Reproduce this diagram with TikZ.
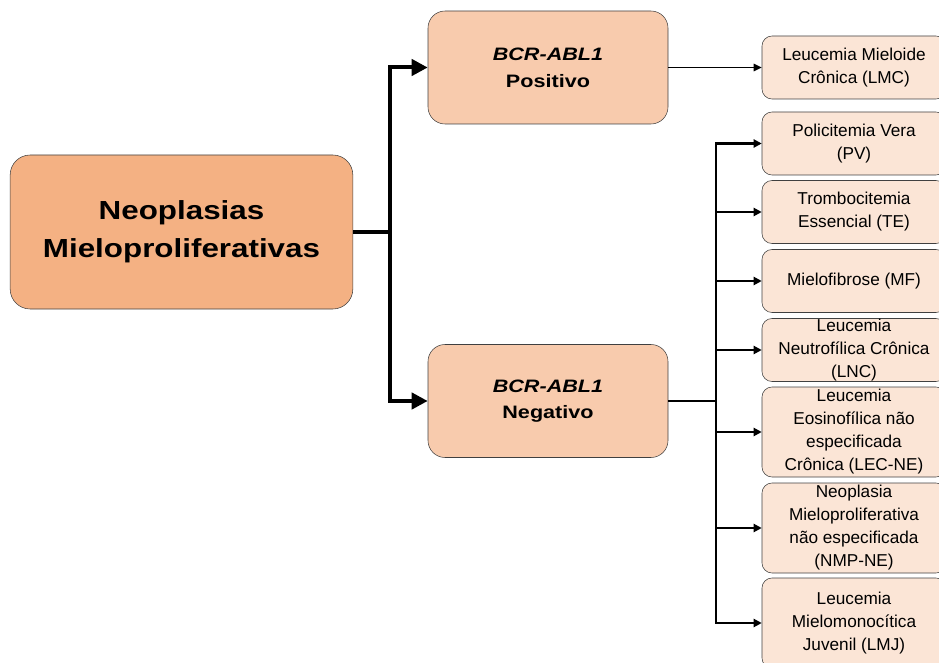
\documentclass[tikz,border=0pt]{standalone}
\usepackage{fontspec}
\setmainfont{Liberation Sans}
\newfontfamily\widefont[FakeStretch=1.2]{Liberation Sans}
\usetikzlibrary{arrows.meta,positioning}
\definecolor{peach}{HTML}{F4B183}
\definecolor{apricot}{HTML}{F8CBAD}
\definecolor{cream}{HTML}{FBE5D6}
\definecolor{rim}{HTML}{404040}

\begin{document}
\begin{tikzpicture}[x=0.75pt,y=-0.75pt,
    rootbox/.style={draw=rim,fill=peach,rounded corners=15pt,minimum width=257pt,
      minimum height=115.5pt,align=center,
      font=\widefont\bfseries\fontsize{19.6}{28.5}\selectfont},
    groupbox/.style={draw=rim,fill=apricot,rounded corners=12.75pt,minimum width=180pt,
      minimum height=84.75pt,align=center,
      font=\widefont\bfseries\fontsize{13.5}{20}\selectfont},
    leafbox/.style={draw=rim,fill=cream,rounded corners=7.5pt,minimum width=138pt,
      minimum height=47.25pt,align=center,inner sep=0pt,
      font=\fontsize{12.9}{17.25}\selectfont},
    tallbox/.style={leafbox,minimum height=67.5pt},
    mainline/.style={line width=3pt},
    mainarrow/.style={mainline,-{Triangle[length=12pt,width=12pt]}},
    twigarrow/.style={line width=1.7pt,-{Triangle[length=6pt,width=6pt]}}]
  \clip (0,0) rectangle (939,663);
  % left column
  \node[rootbox] (root) at (181.5,232) {Neoplasias\\Mieloproliferativas};
  \node[groupbox] (pos) at (548,67.5) {\textit{BCR-ABL1}\\Positivo};
  \node[groupbox] (neg) at (548,401) {\textit{BCR-ABL1}\\Negativo};
  % right column
  \node[leafbox] (lmc) at (854,67.5) {Leucemia Mieloide\\Crônica (LMC)};
  \node[leafbox] (pv) at (854,143.5) {Policitemia Vera\\(PV)};
  \node[leafbox] (te) at (854,212) {Trombocitemia\\Essencial (TE)};
  \node[leafbox] (mf) at (854,281) {Mielofibrose (MF)};
  \node[leafbox] (lnc) at (854,350) {Leucemia\\Neutrofílica Crônica\\(LNC)};
  \node[tallbox] (lec) at (854,432) {Leucemia\\Eosinofílica não\\especificada\\Crônica (LEC-NE)};
  \node[tallbox] (nmp) at (854,528) {Neoplasia\\Mieloproliferativa\\não especificada\\(NMP-NE)};
  \node[tallbox] (lmj) at (854,623) {Leucemia\\Mielomonocítica\\Juvenil (LMJ)};
  % connectors
  \draw[mainline] (root.east) -- ++(37,0) coordinate (rj);
  \draw[mainarrow] (rj) |- (pos.west);
  \draw[mainarrow] (rj) |- (neg.west);
  \draw[line width=1.3pt,-{Triangle[length=6pt,width=5.5pt]}] (pos.east) -- (lmc.west);
  \draw[line width=2pt] (neg.east) -- ++(48,0) coordinate (nj);
  \foreach \leaf in {pv,te,mf,lnc,lec,nmp,lmj}
    \draw[twigarrow] (nj) |- (\leaf.west);
\end{tikzpicture}
\end{document}
